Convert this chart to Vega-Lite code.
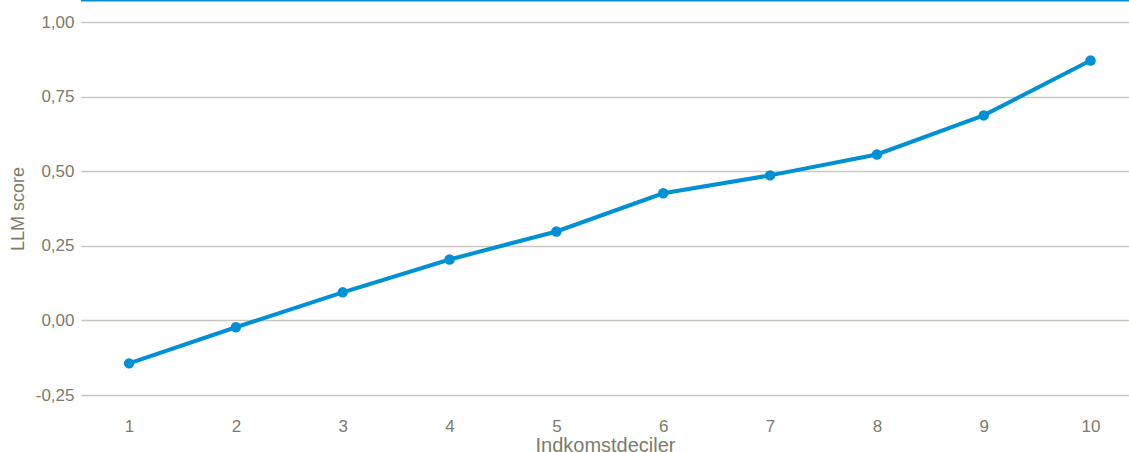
{
  "$schema": "https://vega.github.io/schema/vega-lite/v6.json",
  "autosize": "none",
  "padding": {"left": 81, "top": 22, "right": 0, "bottom": 57},
  "width": 1048,
  "height": 373,
  "background": "white",
  "config": {
    "view": {"stroke": null},
    "locale": {"number": {"decimal": ",", "thousands": ".", "grouping": [3], "currency": ["", " kr."], "minus": "-"}},
    "font": "Liberation Sans",
    "axis": {
      "labelFont": "Liberation Sans",
      "titleFont": "Liberation Sans",
      "labelFontSize": 17,
      "titleFontSize": 18,
      "titleFontWeight": "normal",
      "labelColor": "#7b7b6b",
      "titleColor": "#7b7b6b",
      "domain": false,
      "ticks": false
    }
  },
  "data": {
    "values": [
      {"decil": 1, "score": -0.144},
      {"decil": 2, "score": -0.023},
      {"decil": 3, "score": 0.094},
      {"decil": 4, "score": 0.204},
      {"decil": 5, "score": 0.298},
      {"decil": 6, "score": 0.426},
      {"decil": 7, "score": 0.486},
      {"decil": 8, "score": 0.556},
      {"decil": 9, "score": 0.687},
      {"decil": 10, "score": 0.871}
    ]
  },
  "layer": [
    {
      "mark": {"type": "rule", "stroke": "#0090d4", "strokeWidth": 3, "clip": false},
      "data": {"values": [{"top": 1.0737}]},
      "encoding": {"y": {"field": "top", "type": "quantitative", "scale": {"domain": [-0.25, 1.0], "nice": false, "zero": false}}}
    },
    {
      "mark": {"type": "line", "stroke": "#0090d4", "strokeWidth": 4, "point": {"filled": true, "size": 110, "fill": "#0090d4", "opacity": 1}},
      "encoding": {
        "x": {
          "field": "decil",
          "type": "quantitative",
          "scale": {"domain": [0.55, 10.36], "nice": false, "zero": false},
          "axis": {"title": "Indkomstdeciler", "titleFontSize": 20, "values": [1, 2, 3, 4, 5, 6, 7, 8, 9, 10], "format": "d", "grid": false, "labelPadding": 23, "titlePadding": 1}
        },
        "y": {
          "field": "score",
          "type": "quantitative",
          "scale": {"domain": [-0.25, 1.0], "nice": false, "zero": false},
          "axis": {"title": "LLM score", "values": [-0.25, 0, 0.25, 0.5, 0.75, 1.0], "format": ".2f", "grid": true, "gridColor": "#c8c8c0", "gridWidth": 1.5, "gridOpacity": 1, "labelPadding": 7, "titlePadding": 8}
        }
      }
    }
  ]
}
